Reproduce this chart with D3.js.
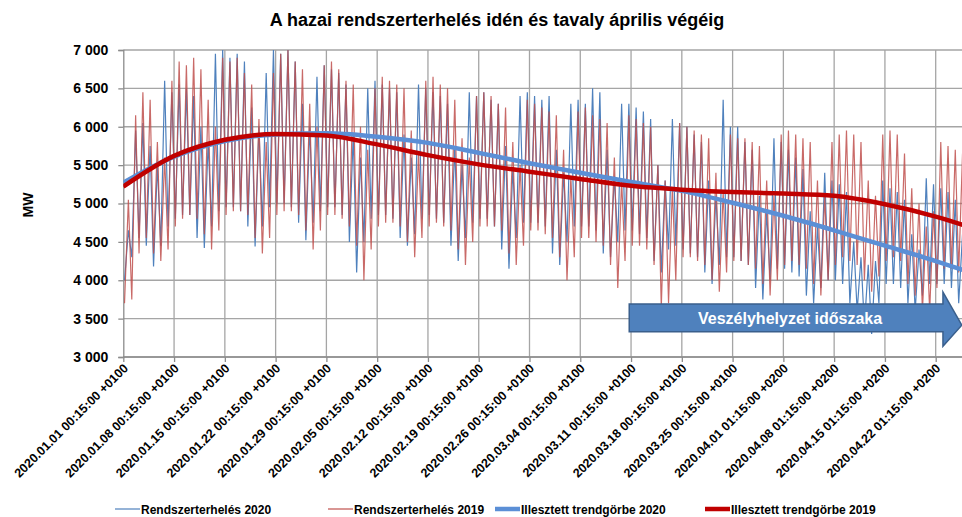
<!DOCTYPE html>
<html>
<head>
<meta charset="utf-8">
<script src="https://cdn.jsdelivr.net/npm/d3@7"></script>
<style>
  body { margin: 0; background: #fff; }
  text { font-family: "Liberation Sans", Arial, sans-serif; font-weight: bold; fill: #000; }
</style>
</head>
<body>
<svg id="chart" width="962" height="517"></svg>
<script>
// tick labels of the category axis (one every 7 days)
const tickLabels = [
  "2020.01.01 00:15:00 +0100", "2020.01.08 00:15:00 +0100", "2020.01.15 00:15:00 +0100",
  "2020.01.22 00:15:00 +0100", "2020.01.29 00:15:00 +0100", "2020.02.05 00:15:00 +0100",
  "2020.02.12 00:15:00 +0100", "2020.02.19 00:15:00 +0100", "2020.02.26 00:15:00 +0100",
  "2020.03.04 00:15:00 +0100", "2020.03.11 00:15:00 +0100", "2020.03.18 00:15:00 +0100",
  "2020.03.25 00:15:00 +0100", "2020.04.01 01:15:00 +0200", "2020.04.08 01:15:00 +0200",
  "2020.04.15 01:15:00 +0200", "2020.04.22 01:15:00 +0200"
];
const yTicks = [3000, 3500, 4000, 4500, 5000, 5500, 6000, 6500, 7000];

// daily low / high of the load, MW, day 0 = Jan 1
const min2020 = [
  4000, 4300, 4550, 4450, 4180, 4450, 4700, 4800, 4850, 4850, 4550, 4420, 4700, 4900,
  4950, 4950, 4900, 4700, 4440, 4700, 4950, 5000, 5000, 4950, 4750, 4520, 4750, 4900,
  4950, 4950, 4850, 4500, 4100, 4500, 4800, 4850, 4850, 4800, 4550, 4450, 4600, 4800,
  4850, 4800, 4750, 4450, 4250, 4550, 4750, 4800, 4800, 4700, 4400, 4150, 4550, 4750,
  4750, 4750, 4700, 4350, 4200, 4500, 4700, 4700, 4700, 4650, 4350, 4300, 4500, 4650,
  4650, 4600, 4550, 4250, 4100, 4400, 4450, 4400, 4350, 4300, 4100, 3950, 4200, 4300,
  4300, 4250, 4200, 3900, 3750, 4000, 4150, 4150, 4100, 4050, 3800, 3700, 3900, 4000,
  4000, 3950, 3700, 3600, 3400, 3300, 3700, 3950, 3950, 3900, 3700, 3600, 3800, 3950,
  3950, 3950, 3900, 3700, 3600
];
const max2020 = [
  4650, 5950, 6050, 5750, 5500, 6600, 6450, 6550, 6500, 6400, 6000, 5800, 6950, 7000,
  6900, 6950, 6850, 6250, 6000, 6700, 7000, 6950, 7000, 6850, 6300, 6000, 6650, 6800,
  6750, 6700, 6550, 5900, 5600, 6500, 6600, 6550, 6500, 6450, 5900, 5600, 6550, 6500,
  6450, 6400, 6300, 5750, 5500, 6450, 6400, 6450, 6350, 6300, 5750, 5450, 6400, 6450,
  6400, 6350, 6400, 5700, 5400, 6300, 6350, 6300, 6500, 6450, 5700, 5350, 6300, 6300,
  6250, 6200, 6100, 5500, 5300, 6100, 6050, 6000, 5900, 5800, 5300, 5100, 6350, 6000,
  6000, 5800, 5700, 5100, 4900, 5850, 5800, 5700, 5600, 5450, 4900, 4700, 5400, 5300,
  5250, 5150, 4500, 4300, 4200, 4250, 5300, 5200, 5150, 5050, 4600, 4400, 5330, 5250,
  5200, 5150, 5050, 4600, 4400
];
const min2019 = [
  3700, 3750, 4350, 4550, 4350, 4250, 4400, 4700, 4800, 4850, 4800, 4600, 4400, 4650,
  4850, 4900, 4900, 4850, 4550, 4350, 4550, 4850, 4900, 4900, 4850, 4650, 4400, 4650,
  4850, 4850, 4800, 4700, 4450, 4000, 4400, 4700, 4750, 4750, 4700, 4500, 4300, 4550,
  4700, 4750, 4700, 4650, 4400, 4200, 4500, 4700, 4700, 4700, 4650, 4350, 4200, 4450,
  4650, 4650, 4600, 4550, 4300, 4000, 4300, 4550, 4550, 4500, 4450, 4200, 3900, 4250,
  4450, 4450, 4400, 4200, 3650, 3700, 4000, 4300, 4300, 4250, 4200, 4000, 3850, 4100,
  4250, 4250, 4200, 4150, 3950, 3800, 4000, 4200, 4250, 4200, 4150, 3950, 3800, 4000,
  4200, 4300, 4250, 4200, 4000, 3850, 4050, 4250, 4300, 4250, 3950, 3800, 3600, 3600,
  3900, 4150, 4150, 4100, 3950
];
const max2019 = [
  5050, 6150, 6450, 6350, 5800, 5600, 6600, 6850, 6800, 6900, 6750, 6350, 6000, 6900,
  6850, 6900, 6700, 6550, 6100, 5800, 6700, 6950, 7000, 6850, 6750, 6300, 6000, 6800,
  6850, 6750, 6600, 6550, 6000, 5700, 6500, 6650, 6600, 6550, 6500, 5950, 5650, 6600,
  6650, 6550, 6500, 6350, 5850, 5600, 6400, 6450, 6400, 6300, 6250, 5800, 5500, 6350,
  6300, 6250, 6200, 6150, 5700, 5350, 6200, 6250, 6150, 6100, 6050, 5600, 5300, 6150,
  6100, 6050, 6000, 5500, 5300, 5200, 6050, 6000, 5950, 5900, 5850, 5400, 5150, 5900,
  5850, 5850, 5800, 5750, 5300, 5100, 5900, 5950, 5900, 5850, 5800, 5300, 5100, 5800,
  5900, 5950, 5900, 5800, 5300, 5100, 5900, 5950, 5900, 5650, 5200, 5000, 4700, 4900,
  5800, 5750, 5700, 5650, 5200
];

// fitted trend curves, sampled weekly
const trendDays = [0, 7, 14, 21, 28, 35, 42, 49, 56, 63, 70, 77, 84, 91, 98, 105, 112, 119];
const trend2020 = [5270, 5610, 5815, 5900, 5915, 5870, 5790, 5660, 5525, 5400, 5280, 5165, 5010, 4840, 4650, 4450, 4250, 4030];
const trend2019 = [5220, 5620, 5830, 5905, 5885, 5770, 5630, 5510, 5415, 5320, 5230, 5180, 5150, 5130, 5100, 4990, 4830, 4620];

const svg = d3.select("#chart");
const plotLeft = 123.3, plotRight = 962, plotTop = 50, plotBottom = 357;

const x = d3.scaleLinear().domain([0, 112]).range([plotLeft, 935.7]);
const y = d3.scaleLinear().domain([3000, 7000]).range([plotBottom, plotTop]);

const huFormat = d3.formatLocale({ decimal: ",", thousands: " ", grouping: [3], currency: ["", ""] }).format(",");

// title
svg.append("text")
  .attr("x", 497).attr("y", 26)
  .attr("text-anchor", "middle")
  .style("font-size", "18px")
  .text("A hazai rendszerterhelés idén és tavaly április végéig");

// gridlines
const gridColor = "#a5a5a5";
svg.append("g")
  .selectAll("line")
  .data(yTicks)
  .join("line")
  .attr("x1", plotLeft).attr("x2", plotRight)
  .attr("y1", d => y(d)).attr("y2", d => y(d))
  .attr("stroke", gridColor).attr("stroke-width", 1.3);

svg.append("g")
  .selectAll("line")
  .data(d3.range(7, 113, 7))
  .join("line")
  .attr("x1", d => x(d)).attr("x2", d => x(d))
  .attr("y1", plotTop).attr("y2", plotBottom)
  .attr("stroke", gridColor).attr("stroke-width", 1.3);

// y axis
const yAxis = svg.append("g")
  .attr("transform", `translate(${plotLeft},0)`)
  .call(d3.axisLeft(y).tickValues(yTicks).tickFormat(huFormat).tickSizeOuter(0).tickSize(5).tickPadding(10));
yAxis.select(".domain").attr("stroke", "#8c8c8c").attr("stroke-width", 1.3);
yAxis.selectAll(".tick line").attr("stroke", "#8c8c8c").attr("stroke-width", 1.3);
yAxis.selectAll("text").style("font-size", "14px").style("font-family", "'Liberation Sans', Arial, sans-serif");

svg.append("text")
  .attr("transform", "translate(33,205) rotate(-90)")
  .attr("text-anchor", "middle")
  .style("font-size", "14px")
  .text("MW");

// x axis
const xAxis = svg.append("g")
  .attr("transform", `translate(0,${plotBottom})`)
  .call(d3.axisBottom(x).tickValues(d3.range(0, 113, 7)).tickFormat((d, i) => tickLabels[i]).tickSizeOuter(0).tickSize(5));
xAxis.select(".domain").attr("d", `M${plotLeft},0H${plotRight}`).attr("stroke", "#8c8c8c").attr("stroke-width", 1.3);
xAxis.selectAll(".tick line").attr("stroke", "#8c8c8c").attr("stroke-width", 1.3);
xAxis.selectAll("text")
  .style("font-size", "12.5px")
  .style("font-family", "'Liberation Sans', Arial, sans-serif")
  .attr("text-anchor", "end")
  .attr("dy", null)
  .attr("transform", "translate(5,12) rotate(-45)")
  .attr("x", 0).attr("y", 0);

// plot clip
svg.append("clipPath").attr("id", "plot")
  .append("rect").attr("x", plotLeft).attr("y", plotTop - 1).attr("width", plotRight - plotLeft).attr("height", plotBottom - plotTop + 1);

// daily low at night, high in the evening
function dayPoints(lows, highs) {
  const pts = [];
  lows.forEach((lo, d) => {
    pts.push([d + 0.17, lo]);
    pts.push([d + 0.7, highs[d]]);
  });
  return pts;
}

const line = d3.line().x(d => x(d[0])).y(d => y(d[1]));
const smooth = d3.line().x(d => x(d[0])).y(d => y(d[1])).curve(d3.curveMonotoneX);

const plot = svg.append("g").attr("clip-path", "url(#plot)");

plot.append("path")
  .attr("d", line(dayPoints(min2020, max2020)))
  .attr("fill", "none").attr("stroke", "#4f81bd").attr("stroke-width", 1.2);

plot.append("path")
  .attr("d", line(dayPoints(min2019, max2019)))
  .attr("fill", "none").attr("stroke", "#c0504d").attr("stroke-width", 1.2).attr("stroke-opacity", 0.85);

plot.append("path")
  .attr("d", smooth(trendDays.map((d, i) => [d, trend2020[i]])))
  .attr("fill", "none").attr("stroke", "#5b8fd6").attr("stroke-width", 4.5);

plot.append("path")
  .attr("d", smooth(trendDays.map((d, i) => [d, trend2019[i]])))
  .attr("fill", "none").attr("stroke", "#c00000").attr("stroke-width", 4.5);

// arrow: state of emergency period
const ax0 = x(69.75), axHead = x(113), axTip = x(115.6);
const arrow = d3.path();
arrow.moveTo(ax0, y(3690));
arrow.lineTo(axHead, y(3690));
arrow.lineTo(axHead, y(3845));
arrow.lineTo(axTip, y(3415));
arrow.lineTo(axHead, y(3140));
arrow.lineTo(axHead, y(3330));
arrow.lineTo(ax0, y(3330));
arrow.closePath();
svg.append("path")
  .attr("d", arrow.toString())
  .attr("fill", "#4f81bd").attr("stroke", "#3a5f8c").attr("stroke-width", 1.5);

svg.append("text")
  .attr("x", (ax0 + axHead) / 2 + 4).attr("y", y(3510) + 6)
  .attr("text-anchor", "middle")
  .style("font-size", "16px").style("fill", "#fff")
  .text("Veszélyhelyzet időszaka");

// legend
const legendItems = [
  { label: "Rendszerterhelés 2020", color: "#4f81bd", width: 1.2, x0: 115 },
  { label: "Rendszerterhelés 2019", color: "#c0504d", width: 1.2, x0: 328 },
  { label: "Illesztett trendgörbe 2020", color: "#5b8fd6", width: 4.5, x0: 495 },
  { label: "Illesztett trendgörbe 2019", color: "#c00000", width: 4.5, x0: 705 }
];
const legend = svg.append("g").attr("transform", "translate(0,509)");
const item = legend.selectAll("g").data(legendItems).join("g")
  .attr("transform", d => `translate(${d.x0},0)`);
item.append("line")
  .attr("x1", 0).attr("x2", 25).attr("y1", 0).attr("y2", 0)
  .attr("stroke", d => d.color).attr("stroke-width", d => d.width);
item.append("text")
  .attr("x", 26).attr("y", 4.5)
  .style("font-size", "12px")
  .text(d => d.label);
</script>
</body>
</html>
